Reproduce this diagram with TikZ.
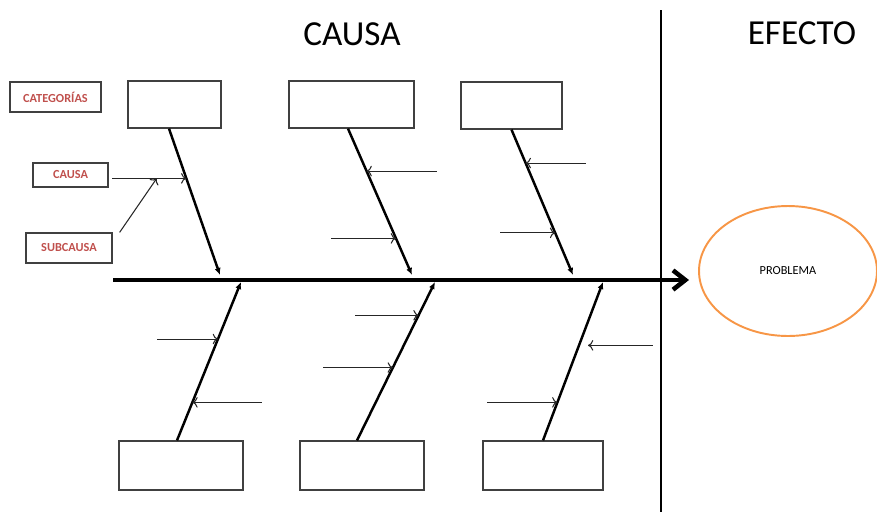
\documentclass[tikz,border=0pt]{standalone}
\usepackage{fontspec}
\setmainfont{Carlito}
\usetikzlibrary{arrows.meta,shapes.geometric}

\definecolor{labelred}{RGB}{192,80,77}
\definecolor{probline}{RGB}{247,150,70}
\definecolor{boxline}{RGB}{64,64,64}

\begin{document}
\begin{tikzpicture}[
    x=0.02cm,
    y=-0.02cm,
    box node/.style={rectangle,draw=boxline,line width=0.7pt,minimum height=0.94cm,inner sep=0pt},
    label node/.style={rectangle,draw=boxline,line width=0.7pt,inner sep=0pt,font=\fontsize{7}{8}\selectfont\bfseries,text=labelred},
    title node/.style={font=\fontsize{20}{24}\selectfont},
    spine/.style={line width=2.6pt,-{Straight Barb[length=7pt,width=11pt]}},
    bone/.style={line width=1.4pt,-{Latex[length=4pt,width=3.5pt]}},
    twig/.style={line width=0.6pt,draw=black!85,{To[length=3pt,width=6pt]}-}
]
\useasboundingbox (0,0) rectangle (877,512);

% Titles
\node[title node] (causa) at (352,34) {CAUSA};
\node[title node] (efecto) at (802,33) {EFECTO};

% Divider between cause and effect
\coordinate (divtop) at (661,10);
\coordinate (divbot) at (661,512);
\draw[line width=1.7pt] (divtop) -- (divbot);

% Legend labels
\node[label node, minimum width=1.82cm, minimum height=0.6cm] (lcat) at (55.5,97) {CATEGORÍAS};
\node[label node, minimum width=1.5cm, minimum height=0.48cm] (lcausa) at (70.5,175) {CAUSA};
\node[label node, minimum width=1.72cm, minimum height=0.6cm] (lsub) at (69,248) {SUBCAUSA};

% Category boxes
\node[box node, minimum width=1.86cm] (top1) at (174.5,104.5) {};
\node[box node, minimum width=2.5cm] (top2) at (351.5,104.5) {};
\node[box node, minimum width=2.02cm] (top3) at (511.5,105.5) {};
\node[box node, minimum width=2.48cm, minimum height=0.98cm] (bot1) at (181,465.5) {};
\node[box node, minimum width=2.48cm, minimum height=0.98cm] (bot2) at (362,465.5) {};
\node[box node, minimum width=2.4cm, minimum height=0.98cm] (bot3) at (543,465.5) {};

% Effect
\node[ellipse,draw=probline,line width=1.1pt,minimum width=3.56cm,minimum height=2.6cm,font=\fontsize{7}{8}\selectfont] (problema) at (788,271) {PROBLEMA};

% Spine
\coordinate (tail) at (113,280);
\coordinate (head) at (689,280);
\draw[spine] (tail) -- (head);

% Where the bones meet the spine
\coordinate (t1) at (220,275);
\coordinate (t2) at (412,275);
\coordinate (t3) at (573,275);
\coordinate (b1) at (241,282);
\coordinate (b2) at (435,282);
\coordinate (b3) at (603,282);

% Bones
\draw[bone] ([xshift=-0.11cm]top1.south) -- coordinate[pos=0.34] (k1) (t1);
\draw[bone] ([xshift=-0.07cm]top2.south) -- coordinate[pos=0.29] (k2) coordinate[pos=0.75] (k3) (t2);
\draw[bone] (top3.south) -- coordinate[pos=0.23] (k4) coordinate[pos=0.71] (k5) (t3);
\draw[bone] ([xshift=-0.08cm]bot1.north) -- coordinate[pos=0.24] (k6) coordinate[pos=0.64] (k7) (b1);
\draw[bone] ([xshift=-0.1cm]bot2.north) -- coordinate[pos=0.46] (k8) coordinate[pos=0.79] (k9) (b2);
\draw[bone] (bot3.north) -- coordinate[pos=0.24] (k10) coordinate[pos=0.6] (k11) (b3);

% Causes
\draw[twig] (k1) -- ++(-74,0) coordinate[pos=0.4] (k0);
\draw[twig] (k0) -- ([xshift=0.14cm]lsub.north east);
\draw[twig] (k2) -- ++(70,0);
\draw[twig] (k3) -- ++(-65,0);
\draw[twig] (k4) -- ++(60,0);
\draw[twig] (k5) -- ++(-55,0);
\draw[twig] (k6) -- ++(70,0);
\draw[twig] (k7) -- ++(-61,0);
\draw[twig] (k8) -- ++(-70,0);
\draw[twig] (k9) -- ++(-64,0);
\draw[twig] ([xshift=0.18cm]k11) -- ++(65,0);
\draw[twig] (k10) -- ++(-70,0);

\end{tikzpicture}
\end{document}
